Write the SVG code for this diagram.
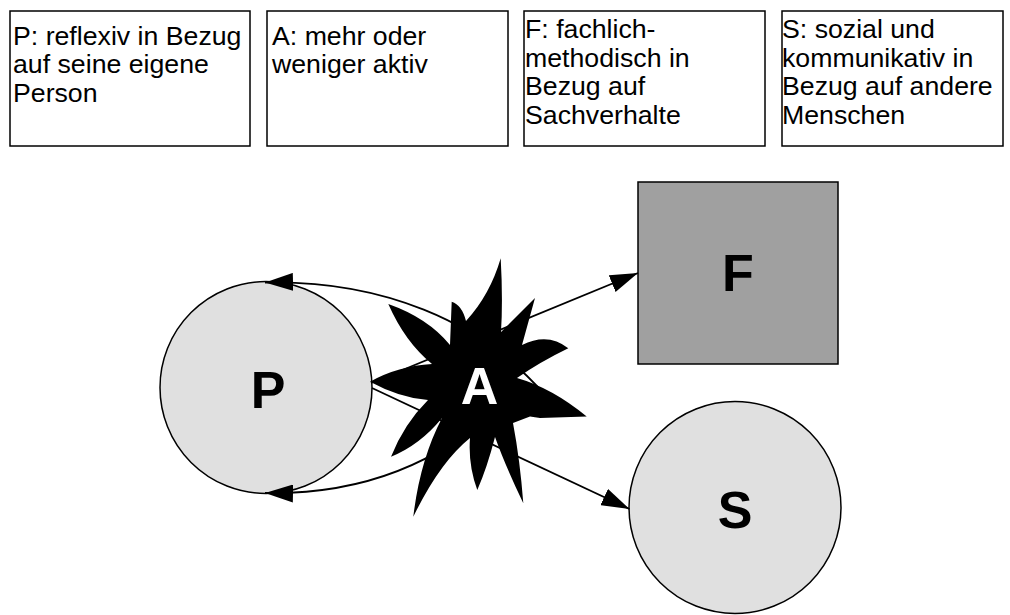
<svg xmlns="http://www.w3.org/2000/svg" width="1010" height="615" viewBox="0 0 1010 615">
  <style>
    .box { fill: #ffffff; stroke: #000000; stroke-width: 1.5; }
    .note { font-family: "Liberation Sans", Arial, sans-serif; font-size: 26.7px; fill: #000000; }
    .big { font-family: "Liberation Sans", Arial, sans-serif; font-size: 52px; font-weight: bold; text-anchor: middle; }
    .light { fill: #e0e0e0; stroke: #000000; stroke-width: 1.5; }
    .dark { fill: #a0a0a0; stroke: #000000; stroke-width: 1.5; }
    .conn { fill: none; stroke: #000000; stroke-width: 1.8; marker-end: url(#arrow); }
  </style>
  <defs>
    <marker id="arrow" markerUnits="userSpaceOnUse" markerWidth="28" markerHeight="18" refX="28" refY="9" orient="auto">
      <path d="M0,0 L28,9 L0,18 Z" fill="#000000"/>
    </marker>
  </defs>
  <rect width="1010" height="615" fill="#ffffff"/>

  <!-- legend boxes -->
  <g id="legend-p">
    <rect class="box" x="10" y="11" width="240" height="135"/>
    <text class="note" x="13" y="44.5">P: reflexiv in Bezug</text>
    <text class="note" x="13" y="73">auf seine eigene</text>
    <text class="note" x="13" y="101.5">Person</text>
  </g>
  <g id="legend-a">
    <rect class="box" x="267" y="11" width="241" height="135"/>
    <text class="note" x="272" y="44.5">A: mehr oder</text>
    <text class="note" x="272" y="73">weniger aktiv</text>
  </g>
  <g id="legend-f">
    <rect class="box" x="524" y="11" width="241" height="135"/>
    <text class="note" x="525" y="38">F: fachlich-</text>
    <text class="note" x="525" y="66.5">methodisch in</text>
    <text class="note" x="525" y="95">Bezug auf</text>
    <text class="note" x="525" y="123.5">Sachverhalte</text>
  </g>
  <g id="legend-s">
    <rect class="box" x="782" y="11" width="221" height="135"/>
    <text class="note" x="782" y="38">S: sozial und</text>
    <text class="note" x="782" y="66.5">kommunikativ in</text>
    <text class="note" x="782" y="95">Bezug auf andere</text>
    <text class="note" x="782" y="123.5">Menschen</text>
  </g>

  <!-- main nodes -->
  <g id="node-p">
    <circle class="light" cx="266" cy="387.5" r="106"/>
    <text class="big" x="268" y="408" fill="#000000">P</text>
  </g>
  <g id="node-f">
    <rect class="dark" x="638" y="182" width="200" height="182"/>
    <text class="big" x="738" y="291" fill="#000000">F</text>
  </g>
  <g id="node-s">
    <circle class="light" cx="735" cy="507.5" r="106"/>
    <text class="big" x="735" y="528" fill="#000000">S</text>
  </g>

  <!-- connectors -->
  <g id="connectors">
    <line class="conn" x1="371" y1="383" x2="638" y2="273"/>
    <line class="conn" x1="372" y1="388" x2="629.5" y2="509"/>
    <path class="conn" d="M545,395 C480,320 380,280 265,282.5"/>
    <path class="conn" d="M500,405 C445,458 370,495 265,493"/>
  </g>

  <!-- activity burst -->
  <g id="node-a">
    <path fill="#000000" d="M500.7,258.3 Q503,300 501,332 L535,298 L522,345 Q548,332 568.3,348.3 Q540,362 517,378
      Q552,388 586.7,416.5 L540,418 L530,416.5 L513,423 Q520,460 523.3,503.3 Q505,465 495,437
      Q487,468 477.3,490 Q468,465 470,438 Q440,462 413.3,516.7 Q420,460 442,418
      Q420,445 391,456.7 Q404,424 428,400 Q400,398 370,381.7 Q398,366 432,364
      Q405,342 388.3,304 Q428,318 450,345 L451.7,301.7 Q462,305 466,321 Q490,295 500.7,258.3 Z"/>
    <text class="big" x="479.5" y="404" fill="#ffffff">A</text>
  </g>
</svg>
